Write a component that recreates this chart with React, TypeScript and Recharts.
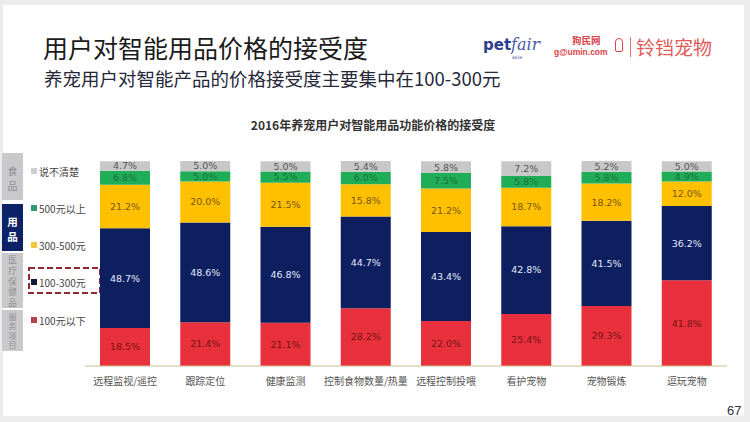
import React from 'react';
import { BarChart, Bar, XAxis, YAxis, LabelList } from 'recharts';

const categories = ['远程监视/遥控', '跟踪定位', '健康监测', '控制食物数量/热量', '远程控制投喂', '看护宠物', '宠物锻炼', '逗玩宠物'];
const under100 = [18.5, 21.4, 21.1, 28.2, 22.0, 25.4, 29.3, 41.8];
const r100to300 = [48.7, 48.6, 46.8, 44.7, 43.4, 42.8, 41.5, 36.2];
const r300to500 = [21.2, 20.0, 21.5, 15.8, 21.2, 18.7, 18.2, 12.0];
const over500 = [6.8, 5.0, 5.5, 6.0, 7.5, 5.8, 5.8, 4.9];
const unclear = [4.7, 5.0, 5.0, 5.4, 5.8, 7.2, 5.2, 5.0];

const seriesNames = ['100元以下', '100-300元', '300-500元', '500元以上', '说不清楚'];
const legendOrder = ['说不清楚', '500元以上', '300-500元', '100-300元', '100元以下'];
const tabItems = ['食品', '用品', '医疗保健品', '服务项目'];

const title = '用户对智能用品价格的接受度';
const subtitle = '养宠用户对智能产品的价格接受度主要集中在100-300元';
const chartTitle = '2016年养宠用户对智能用品功能价格的接受度';
const pageNumber = '67';

const data = categories.map((c, i) => ({
  name: c,
  a: under100[i],
  b: r100to300[i],
  c: r300to500[i],
  d: over500[i],
  e: unclear[i],
}));

const seriesCfg = [
  { key: 'a', name: seriesNames[0], color: '#e8313c', text: '#7a1414', marker: '#b9434b' },
  { key: 'b', name: seriesNames[1], color: '#0d1f5e', text: '#e4eaff', marker: '#111a3d' },
  { key: 'c', name: seriesNames[2], color: '#ffc000', text: '#7a5712', marker: '#eec842' },
  { key: 'd', name: seriesNames[3], color: '#1fae57', text: '#1c6f3c', marker: '#2f9a70' },
  { key: 'e', name: seriesNames[4], color: '#c8c8c8', text: '#555555', marker: '#cfcfcf' },
];

const legendY = [171, 208, 245, 282, 320];
const tabBoxes = [
  { y: 153, h: 47, fs: 10, first: 170, step: 15 },
  { y: 204, h: 47, fs: 10.5, first: 221, step: 15 },
  { y: 253, h: 55, fs: 8.6, first: 259, step: 10.8 },
  { y: 310, h: 41, fs: 8, first: 316, step: 9.6 },
];

const cjk = '"Noto Sans CJK SC", "Noto Sans", sans-serif';

export default function App() {
  return (
    <div style={{ position: 'fixed', left: 0, top: 0, width: 750, height: 422, background: '#ececec', overflow: 'hidden', fontFamily: cjk }}>
      <div style={{ position: 'absolute', left: 3, top: 5, width: 741, height: 411, background: '#ffffff' }} />
      {/* slide title */}
      <div style={{ position: 'absolute', left: 43, top: 31, fontSize: 25, lineHeight: '32px', color: '#1b1b1b', whiteSpace: 'nowrap' }}>{title}</div>
      <div style={{ position: 'absolute', left: 44, top: 66, fontSize: 18.5, lineHeight: '24px', color: '#26283a', whiteSpace: 'nowrap' }}>{subtitle}</div>
      {/* logos */}
      <div style={{ position: 'absolute', left: 483, top: 33, whiteSpace: 'nowrap', color: '#2c3f8e', lineHeight: '20px' }}>
        <span style={{ fontFamily: '"DejaVu Sans", sans-serif', fontWeight: 700, fontSize: 15 }}>pet</span>
        <span style={{ fontFamily: '"DejaVu Serif", serif', fontStyle: 'italic', fontSize: 16, color: '#4a5ca6' }}>fair</span>
        <span style={{ fontSize: 5, verticalAlign: 'top', color: '#4a5ca6' }}>®</span>
      </div>
      <div style={{ position: 'absolute', left: 512, top: 54, fontSize: 5, lineHeight: '6px', color: '#4a5ca6', fontFamily: '"DejaVu Sans", sans-serif' }}>asia</div>
      <div style={{ position: 'absolute', left: 572, top: 35, fontSize: 9.5, lineHeight: '11px', fontWeight: 700, color: '#d9434a', whiteSpace: 'nowrap' }}>狗民网</div>
      <div style={{ position: 'absolute', left: 554, top: 47, fontSize: 8.5, lineHeight: '10px', fontWeight: 700, color: '#d9434a', fontFamily: '"Liberation Sans", sans-serif', whiteSpace: 'nowrap' }}>g@umin.com</div>
      <div style={{ position: 'absolute', left: 615, top: 38, width: 8, height: 14, borderRadius: '4px 4px 2px 2px', border: '1.5px solid #d9434a', boxSizing: 'border-box' }} />
      <div style={{ position: 'absolute', left: 630, top: 37, width: 1, height: 20, background: '#e07070' }} />
      <div style={{ position: 'absolute', left: 636, top: 34, fontSize: 19, color: '#e05a5a', whiteSpace: 'nowrap', lineHeight: '26px' }}>铃铛宠物</div>
      {/* chart title */}
      <div style={{ position: 'absolute', left: 0, width: 746, top: 117, textAlign: 'center', fontSize: 12, fontWeight: 700, color: '#333', lineHeight: '16px' }}>{chartTitle}</div>
      {/* left tab + legend overlay */}
      <svg width={750} height={422} style={{ position: 'absolute', left: 0, top: 0 }}>
        {tabItems.map((t, i) => (
          <g key={t}>
            <rect x={2} y={tabBoxes[i].y} width={21} height={tabBoxes[i].h} fill={i === 1 ? '#0c2168' : '#c9c9cc'} />
            {t.split('').map((ch, j) => (
              <text
                key={j}
                x={12.5}
                y={tabBoxes[i].first + j * tabBoxes[i].step}
                textAnchor="middle"
                dominantBaseline="central"
                fontSize={tabBoxes[i].fs}
                fontFamily={cjk}
                fontWeight={i === 1 ? 700 : 400}
                fill={i === 1 ? '#ffffff' : '#8e8e92'}
              >
                {ch}
              </text>
            ))}
          </g>
        ))}
        {legendOrder.map((n, i) => {
          const s = seriesCfg.find((x) => x.name === n)!;
          return (
            <g key={n}>
              <rect x={31} y={legendY[i] - 3} width={6} height={6} fill={s.marker} />
              <text x={39} y={legendY[i]} dominantBaseline="central" fontSize={10} fontFamily={cjk} fill="#444">{n}</text>
            </g>
          );
        })}
        <rect x={29} y={268} width={71} height={25} fill="none" stroke="#8e2a2e" strokeWidth={2} strokeDasharray="6 3" />
      </svg>
      {/* chart */}
      <div style={{ position: 'absolute', left: 0, top: 0 }}>
        <BarChart width={750} height={422} data={data} margin={{ top: 161, right: 23, bottom: 26, left: 85 }} barSize={50}>
          <YAxis hide domain={[0, 100]} allowDataOverflow />
          <XAxis
            dataKey="name"
            height={30}
            interval={0}
            tickLine={false}
            axisLine={{ stroke: '#cbbd8f', strokeWidth: 1 }}
            tick={{ fontSize: 10, fill: '#555', fontFamily: cjk }}
            tickMargin={6}
          />
          {seriesCfg.map((s) => (
            <Bar key={s.key} dataKey={s.key} name={s.name} stackId="s" fill={s.color} isAnimationActive={false}>
              <LabelList
                dataKey={s.key}
                position="center"
                fill={s.text}
                fontSize={9.5}
                fontFamily='"DejaVu Sans", sans-serif'
                formatter={(v: any) => `${Number(v).toFixed(1)}%`}
              />
            </Bar>
          ))}
        </BarChart>
      </div>
      <div style={{ position: 'absolute', left: 727, top: 403, fontSize: 13, color: '#333', fontFamily: '"Liberation Sans", sans-serif' }}>{pageNumber}</div>
    </div>
  );
}
